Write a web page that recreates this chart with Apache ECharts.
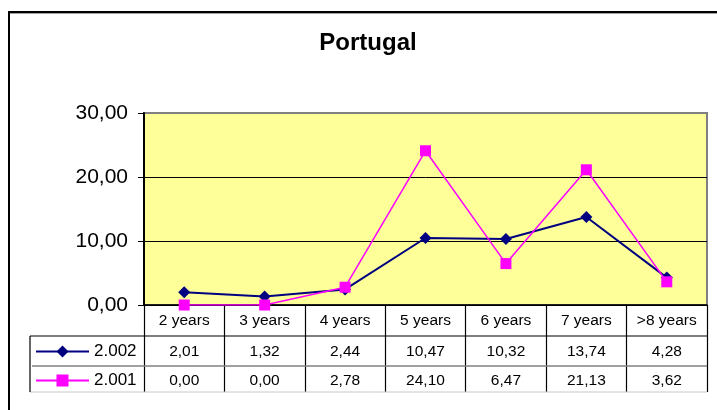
<!DOCTYPE html>
<html>
<head>
<meta charset="utf-8">
<script src="https://cdn.jsdelivr.net/npm/echarts@6/dist/echarts.min.js"></script>
<style>
  html, body { margin: 0; padding: 0; background: #fff; }
  #chart { width: 717px; height: 410px; }
</style>
</head>
<body>
<div id="chart"></div>
<script>
// Age groups along the category axis
var categories = ['2 years', '3 years', '4 years', '5 years', '6 years', '7 years', '>8 years'];
// Series names
var seriesNames = ['2.002', '2.001'];
// Values per year
var values2002 = [2.01, 1.32, 2.44, 10.47, 10.32, 13.74, 4.28];
var values2001 = [0.00, 0.00, 2.78, 24.10, 6.47, 21.13, 3.62];
// Value axis ticks
var yTicks = [0, 10, 20, 30];

var FONT = 'Liberation Sans, Arial, sans-serif';
var fmt = function (v) { return Number(v).toFixed(2).replace('.', ','); };

// Plot frame in pixels
var G = { left: 144, top: 113, right: 707, bottom: 305 };
var W = 717, H = 410;
var ROW1 = 336, ROW2 = 366, TABLE_END = 392, TABLE_LEFT = 30;

var chart = echarts.init(document.getElementById('chart'), null, { renderer: 'canvas' });

function valueAxis(data, offset) {
  return {
    type: 'category',
    data: data,
    position: 'bottom',
    offset: offset,
    boundaryGap: true,
    gridIndex: 0,
    axisLine: { show: false },
    axisTick: { show: false },
    axisLabel: { color: '#000', fontSize: 15.5, fontFamily: FONT, margin: 8, interval: 0 }
  };
}

chart.setOption({
  animation: false,
  backgroundColor: '#fff',
  title: {
    text: 'Portugal',
    left: 368,
    top: 31,
    padding: 0,
    textAlign: 'center',
    textStyle: { fontFamily: FONT, fontSize: 24, fontWeight: 'bold', color: '#000' }
  },
  legend: {
    orient: 'vertical',
    left: 35,
    top: 343,
    padding: 0,
    itemWidth: 53,
    itemHeight: 15,
    itemGap: 12,
    data: seriesNames,
    textStyle: { fontFamily: FONT, fontSize: 17, color: '#000', lineHeight: 17 }
  },
  grid: {
    left: G.left,
    top: G.top,
    right: W - G.right,
    bottom: H - G.bottom,
    show: true,
    backgroundColor: '#FFFF99',
    borderColor: '#808080',
    borderWidth: 2
  },
  xAxis: [
    {
      type: 'category',
      data: categories,
      position: 'bottom',
      boundaryGap: true,
      axisLine: { lineStyle: { color: '#000', width: 1.5 } },
      axisTick: { show: true, interval: 0, length: TABLE_END - G.bottom, lineStyle: { color: '#000', width: 1.2 } },
      axisLabel: { color: '#000', fontSize: 15.5, fontFamily: FONT, margin: 8, interval: 0 },
      splitLine: { show: false }
    },
    valueAxis(values2002.map(fmt), ROW1 - G.bottom),
    valueAxis(values2001.map(fmt), ROW2 - G.bottom - 1)
  ],
  yAxis: {
    type: 'value',
    min: yTicks[0],
    max: yTicks[yTicks.length - 1],
    interval: yTicks[1] - yTicks[0],
    axisLine: { show: true, lineStyle: { color: '#000', width: 2 } },
    axisTick: { show: true, length: 6, lineStyle: { color: '#000', width: 1 } },
    axisLabel: { color: '#000', fontSize: 21, fontFamily: FONT, margin: 16, formatter: fmt },
    splitLine: { show: true, lineStyle: { color: ['#000', '#000', '#000', '#808080'], width: 1 } }
  },
  series: [
    {
      name: seriesNames[0],
      type: 'line',
      data: values2002,
      symbol: 'diamond',
      symbolSize: 12,
      itemStyle: { color: '#000080' },
      lineStyle: { color: '#000080', width: 2 },
      z: 3
    },
    {
      name: seriesNames[1],
      type: 'line',
      data: values2001,
      symbol: 'rect',
      symbolSize: 11,
      itemStyle: { color: '#FF00FF' },
      lineStyle: { color: '#FF00FF', width: 1.5 },
      z: 4
    }
  ],
  graphic: [
    // chart area frame
    { type: 'rect', silent: true, shape: { x: 9, y: 12, width: 800, height: 600 },
      style: { fill: 'none', stroke: '#000', lineWidth: 2 }, z: 10 },
    { type: 'line', silent: true, shape: { x1: 10, y1: 13.5, x2: 800, y2: 13.5 },
      style: { stroke: '#a0a0a0', lineWidth: 1 }, z: 10 },
    // data table rules
    { type: 'line', silent: true, shape: { x1: TABLE_LEFT, y1: ROW1, x2: G.right, y2: ROW1 },
      style: { stroke: '#000', lineWidth: 1.2 }, z: 10 },
    { type: 'line', silent: true, shape: { x1: TABLE_LEFT + 2, y1: ROW2, x2: G.right, y2: ROW2 },
      style: { stroke: '#808080', lineWidth: 1.5 }, z: 10 },
    { type: 'line', silent: true, shape: { x1: TABLE_LEFT, y1: TABLE_END, x2: G.right, y2: TABLE_END },
      style: { stroke: '#c8c8c8', lineWidth: 1 }, z: 10 },
    { type: 'line', silent: true, shape: { x1: TABLE_LEFT, y1: ROW1, x2: TABLE_LEFT, y2: TABLE_END },
      style: { stroke: '#000', lineWidth: 1.2 }, z: 10 }
  ]
});
</script>
</body>
</html>
